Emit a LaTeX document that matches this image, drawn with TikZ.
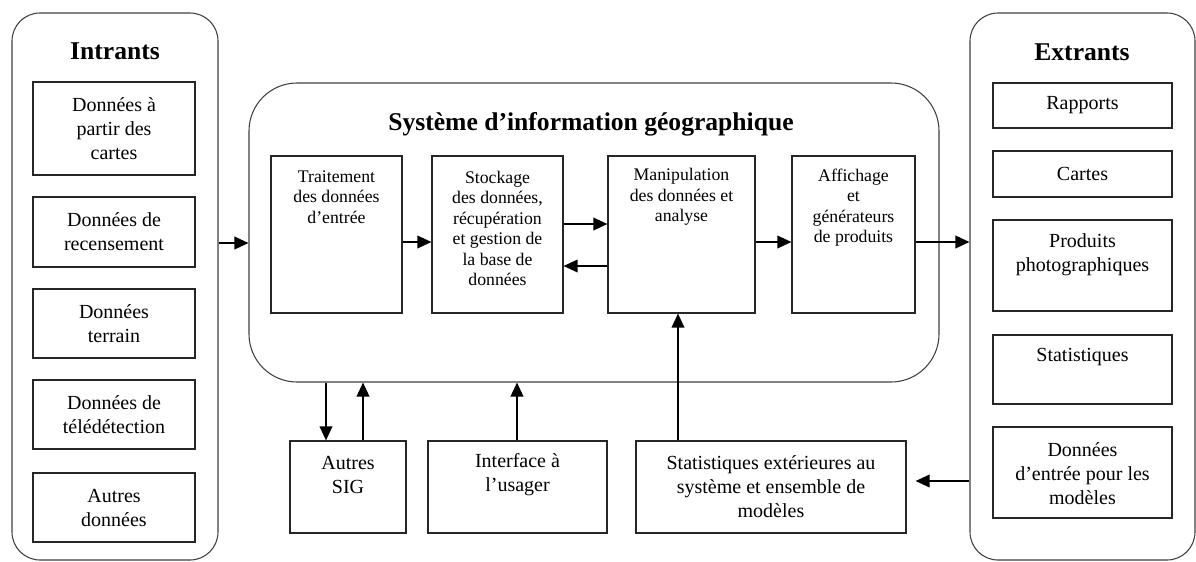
\documentclass[tikz,border=0pt]{standalone}
\usepackage{fontspec}
\setmainfont{Liberation Serif}
\usetikzlibrary{arrows.meta,fit}
\begin{document}
\begin{tikzpicture}[x=0.75pt,y=-0.75pt,
  frame/.style={draw=black!75, line width=0.8pt, rounded corners=21pt, inner sep=0pt},
  gisframe/.style={draw=black!75, line width=0.8pt, rounded corners=36pt, inner sep=0pt},
  box/.style={draw=black!85, line width=0.9pt, inner sep=0pt},
  body/.style={font=\fontsize{15}{18}\selectfont, align=center, inner sep=0pt},
  small/.style={font=\fontsize{13.3}{15.4}\selectfont, align=center, inner sep=0pt},
  heading/.style={font=\fontsize{19.2}{23}\selectfont\bfseries, inner sep=0pt},
  arr/.style={-{Triangle[length=10.5pt,width=9.5pt]}, line width=1.1pt},
]
\fill[white] (0,0) rectangle (1196,561);
\useasboundingbox (0,0) rectangle (1196,561);

% Inputs column
\node[frame, fit={(12,13) (218,560)}] (inL) {};
\node[heading] (inLtitle) at (115,51) {Intrants};
\node[box, fit={(33,82) (195,175)}]  (L1) {};
\node[box, fit={(33,197) (195,267)}] (L2) {};
\node[box, fit={(33,289) (195,358)}] (L3) {};
\node[box, fit={(33,380) (195,449)}] (L4) {};
\node[box, fit={(33,473) (195,542)}] (L5) {};
\node[body] (L1t) at (L1.center) {Données à\\partir des\\cartes};
\node[body] (L2t) at (L2.center) {Données de\\recensement};
\node[body] (L3t) at (L3.center) {Données\\terrain};
\node[body] (L4t) at (L4.center) {Données de\\télédétection};
\node[body] (L5t) at (L5.center) {Autres\\données};

% GIS core
\node[gisframe, fit={(249,83) (939,382)}] (gis) {};
\node[heading] (gistitle) at (591,124) {Système d’information géographique};
\node[box, fit={(271,156) (402,313)}] (G1) {};
\node[box, fit={(432,156) (563,313)}] (G2) {};
\node[box, fit={(608,156) (755,313)}] (G3) {};
\node[box, fit={(792,156) (915,313)}] (G4) {};
\node[small] (G1t) at (336.5,197) {Traitement\\des données\\d’entrée};
\node[small] (G2t) at (497.5,228.5) {Stockage\\des données,\\récupération\\et gestion de\\la base de\\données};
\node[small] (G3t) at (681.5,197) {Manipulation\\des données et\\analyse};
\node[small] (G4t) at (853.5,207.5) {Affichage\\et\\générateurs\\de produits};

% Outputs column
\node[frame, fit={(970,13) (1195,560)}] (outR) {};
\node[heading] (outRtitle) at (1082,52) {Extrants};
\node[box, fit={(993,83) (1172,128)}]  (R1) {};
\node[box, fit={(993,151) (1172,197)}] (R2) {};
\node[box, fit={(993,220) (1172,311)}] (R3) {};
\node[box, fit={(993,335) (1172,404)}] (R4) {};
\node[box, fit={(993,427) (1172,518)}] (R5) {};
\node[body] (R1t) at (R1.center) {Rapports};
\node[body] (R2t) at (R2.center) {Cartes};
\node[body] (R3t) at (1082.5,254.5) {Produits\\photographiques};
\node[body] (R4t) at (1082.5,357) {Statistiques};
\node[body] (R5t) at (1082.5,474) {Données\\d’entrée pour les\\modèles};

% External components
\node[box, fit={(290,441) (406,533)}] (B1) {};
\node[box, fit={(428,441) (607,533)}] (B2) {};
\node[box, fit={(636,441) (906,533)}] (B3) {};
\node[body] (B1t) at (348,475) {Autres\\SIG};
\node[body] (B2t) at (517.5,475) {Interface à\\l’usager};
\node[body] (B3t) at (771,487) {Statistiques extérieures au\\système et ensemble de\\modèles};

% Connectors
\coordinate (rowA) at (0,243);
\coordinate (rowB) at (0,242);
\coordinate (rowUp) at (0,224);
\coordinate (rowDn) at (0,266);
\coordinate (rowS) at (0,481);
\coordinate (colA) at (326,0);
\coordinate (colB) at (363,0);
\coordinate (colC) at (517,0);
\coordinate (colD) at (678,0);

\draw[arr] (inL.east |- rowA) -- (gis.west |- rowA);
\draw[arr] (G1.east |- rowB) -- (G2.west |- rowB);
\draw[arr] (G2.east |- rowUp) -- (G3.west |- rowUp);
\draw[arr] (G3.west |- rowDn) -- (G2.east |- rowDn);
\draw[arr] (G3.east |- rowB) -- (G4.west |- rowB);
\draw[arr] (G4.east |- rowB) -- (outR.west |- rowB);
\draw[arr] (gis.south -| colA) -- (B1.north -| colA);
\draw[arr] (B1.north -| colB) -- (gis.south -| colB);
\draw[arr] (B2.north -| colC) -- (gis.south -| colC);
\draw[arr] (B3.north -| colD) -- (G3.south -| colD);
\draw[arr, shorten >=6.75pt] (outR.west |- rowS) -- (B3.east |- rowS);
\end{tikzpicture}
\end{document}
